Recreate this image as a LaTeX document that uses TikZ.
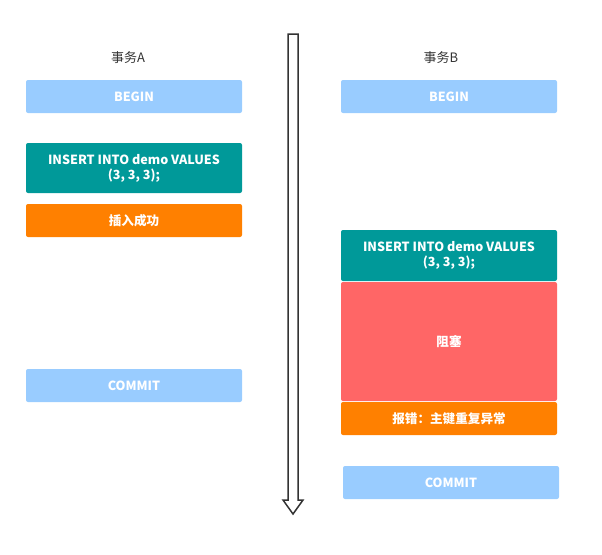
\documentclass[tikz,border=0pt]{standalone}
\usepackage{fontspec}
\setmainfont{Noto Sans CJK SC}
\usetikzlibrary{calc}
\definecolor{lightblue}{HTML}{99CCFF}
\definecolor{teal}{HTML}{009999}
\definecolor{orange}{HTML}{FF8000}
\definecolor{blockred}{HTML}{FF6666}
\definecolor{labelgray}{HTML}{333333}

\begin{document}
\begin{tikzpicture}[x=1pt,y=-1pt,
    box/.style={rectangle, rounded corners=2pt, minimum width=216pt, inner sep=0pt,
                text=white, align=center, font=\fontsize{12.6pt}{15pt}\selectfont\bfseries},
    blue box/.style={box, fill=lightblue, minimum height=33pt},
    sql box/.style={box, fill=teal, minimum height=50pt},
    orange box/.style={box, fill=orange, minimum height=33pt},
    title/.style={text=labelgray, font=\fontsize{13pt}{15pt}\selectfont}]
  \useasboundingbox (0,0) rectangle (602,554);

  % Define nodes
  \node[title] (titleA) at (128,58) {事务A};
  \node[title] (titleB) at (441,58) {事务B};

  \node[blue box] (beginA) at (134,96.5) {BEGIN};
  \node[sql box] (insertA) at (134,168) {INSERT INTO demo VALUES\\(3, 3, 3);};
  \node[orange box] (okA) at (134,220.5) {插入成功};
  \node[blue box] (commitA) at (134,385.5) {COMMIT};

  \node[blue box] (beginB) at (449,96.5) {BEGIN};
  \node[sql box, minimum height=51pt] (insertB) at (449,255.5) {INSERT INTO demo VALUES\\(3, 3, 3);};
  \node[box, fill=blockred, minimum height=119pt] (blockB) at (449,341.5) {阻塞};
  \node[orange box] (errorB) at (449,418.5) {报错：主键重复异常};
  \node[blue box] (commitB) at (451,482.5) {COMMIT};

  % Time arrow
  \draw[line width=1.5pt, labelgray, fill=white, line join=miter]
    (288,34) -- (298,34) -- (298,500) -- (303,500) -- (293,514) -- (283,500) -- (288,500) -- cycle;
\end{tikzpicture}
\end{document}
